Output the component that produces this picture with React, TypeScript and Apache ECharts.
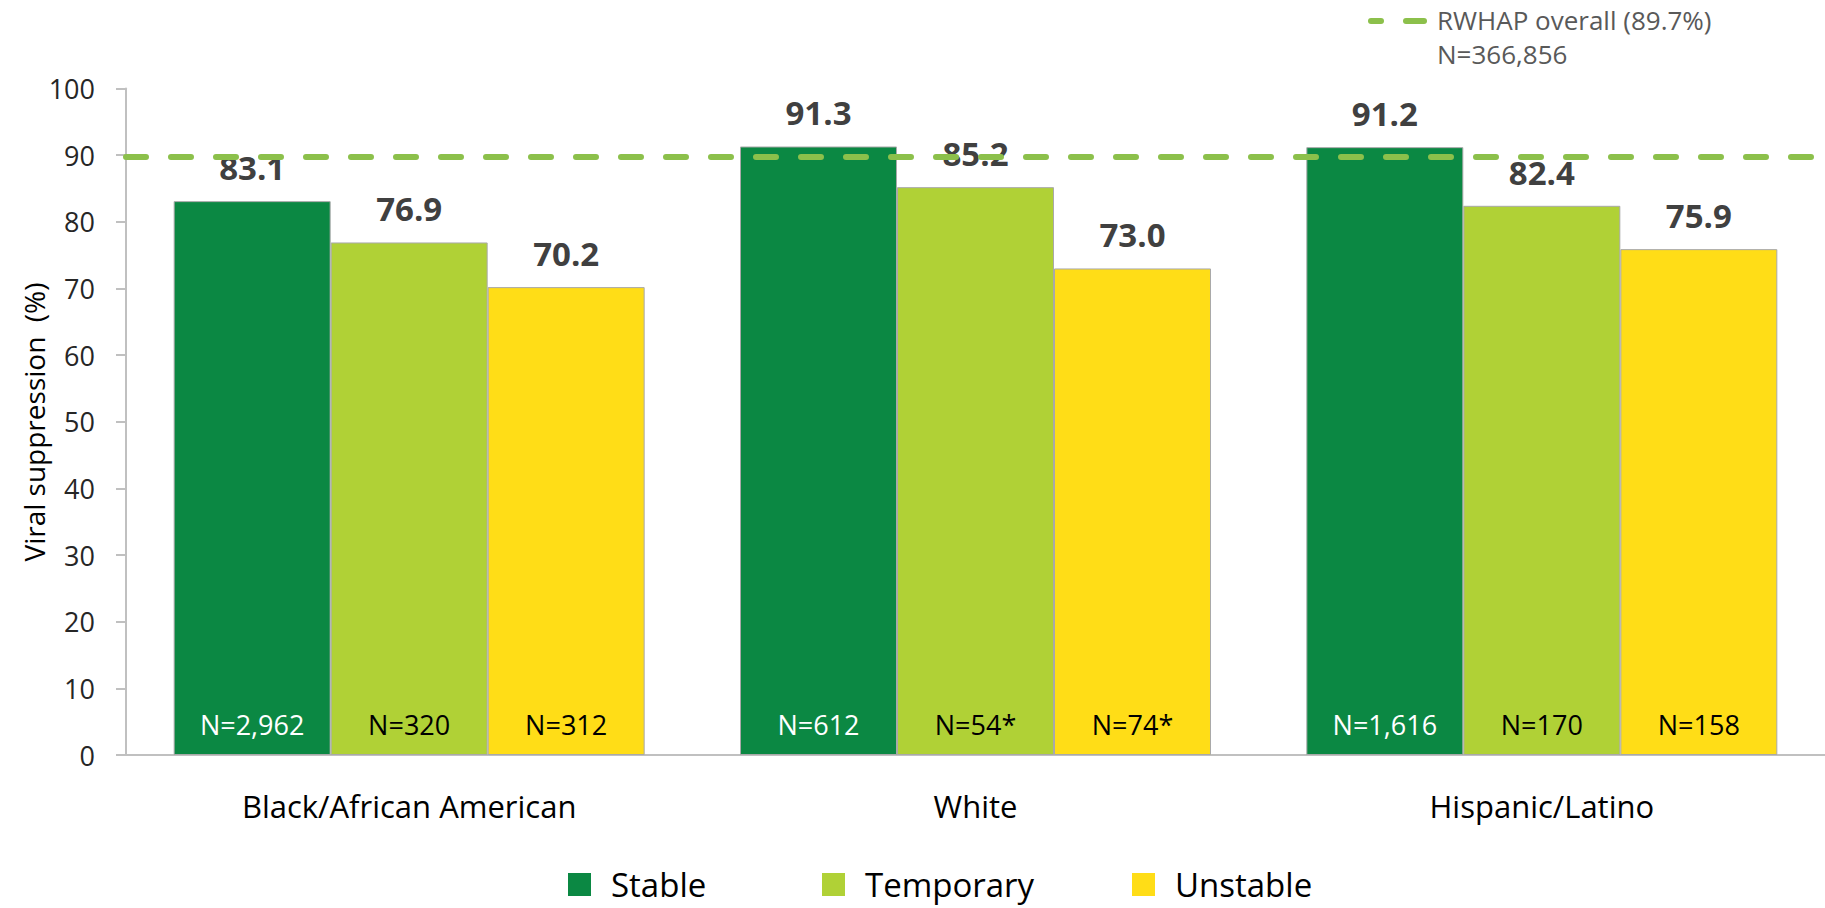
import React, { useEffect, useRef } from 'react';
import * as echarts from 'echarts';

const categories = ['Black/African American', 'White', 'Hispanic/Latino'];
const seriesNames = ['Stable', 'Temporary', 'Unstable'];
const stableValues = [83.1, 91.3, 91.2];
const temporaryValues = [76.9, 85.2, 82.4];
const unstableValues = [70.2, 73.0, 75.9];
const stableN = ['N=2,962', 'N=612', 'N=1,616'];
const temporaryN = ['N=320', 'N=54*', 'N=170'];
const unstableN = ['N=312', 'N=74*', 'N=158'];
const overallValue = 89.7;
const overallN = 'N=366,856';
const yMin = 0;
const yMax = 100;
const yInterval = 10;
const yAxisTitle = 'Viral suppression  (%)';

const FONT = '"Open Sans", "Noto Sans", sans-serif';
const colors = ['#0b8843', '#b0d136', '#ffdd17'];
const nLabelColors = ['#ffffff', '#000000', '#000000'];
const dashColor = '#8cc04b';

export default function App() {
  const ref = useRef<HTMLDivElement>(null);

  useEffect(() => {
    const chart = echarts.init(ref.current as HTMLDivElement, null, { renderer: 'svg' });
    const valueSets = [stableValues, temporaryValues, unstableValues];
    const nSets = [stableN, temporaryN, unstableN];
    const series: any[] = [];
    seriesNames.forEach((name, i) => {
      series.push({
        name,
        type: 'bar',
        stack: 'g' + i,
        stackStrategy: 'all',
        barWidth: 157,
        barGap: '0%',
        data: valueSets[i],
        itemStyle: { color: colors[i], borderColor: '#a9a9a9', borderWidth: 1 },
        label: {
          show: true,
          position: 'insideBottom',
          distance: 17,
          formatter: (p: any) => nSets[i][p.dataIndex],
          color: nLabelColors[i],
          fontSize: 27,
          fontFamily: FONT,
        },
        markLine:
          i === 0
            ? {
                silent: true,
                symbol: ['none', 'none'],
                label: { show: false },
                lineStyle: { color: dashColor, width: 6, type: [20, 25], cap: 'round' },
                data: [{ yAxis: overallValue }],
              }
            : undefined,
      });
      series.push({
        name,
        type: 'bar',
        stack: 'g' + i,
        stackStrategy: 'all',
        barWidth: 157,
        barGap: '0%',
        silent: true,
        data: valueSets[i].map(() => 0),
        itemStyle: { color: 'rgba(0,0,0,0)', borderWidth: 0 },
        label: {
          show: true,
          position: 'top',
          distance: 17,
          formatter: (p: any) => valueSets[i][p.dataIndex].toFixed(1),
          color: '#404040',
          fontSize: 33,
          fontWeight: 'bold',
          fontFamily: FONT,
        },
      });
    });

    const legendLefts = [568, 822, 1132];
    const option: any = {
      animation: false,
      backgroundColor: '#ffffff',
      textStyle: { fontFamily: FONT },
      grid: { left: 126, top: 88.5, width: 1716, height: 666.5, containLabel: false },
      xAxis: {
        type: 'category',
        data: categories,
        axisLine: { show: true, lineStyle: { color: '#c0c0c0', width: 2 } },
        axisTick: { show: false },
        axisLabel: { fontSize: 31, color: '#000000', margin: 35, fontFamily: FONT },
        splitLine: { show: false },
      },
      yAxis: {
        type: 'value',
        min: yMin,
        max: yMax,
        interval: yInterval,
        axisLine: { show: true, lineStyle: { color: '#c0c0c0', width: 2 } },
        axisTick: { show: true, length: 10, lineStyle: { color: '#c0c0c0', width: 2 } },
        axisLabel: { fontSize: 27, color: '#262626', margin: 31, fontFamily: FONT },
        splitLine: { show: false },
      },
      legend: seriesNames.map((name, i) => ({
        data: [name],
        left: legendLefts[i],
        top: 868,
        padding: 0,
        itemWidth: 23,
        itemHeight: 23,
        icon: 'rect',
        selectedMode: false,
        itemStyle: { borderWidth: 0 },
        textStyle: {
          fontSize: 33,
          lineHeight: 32,
          color: '#000000',
          fontFamily: FONT,
          padding: [0, 0, 0, 15],
        },
      })),
      graphic: [
        {
          type: 'text',
          x: 34,
          y: 422,
          rotation: Math.PI / 2,
          style: {
            text: yAxisTitle,
            fontSize: 28,
            fontFamily: FONT,
            fill: '#000000',
            align: 'center',
            verticalAlign: 'middle',
          },
        },
        {
          type: 'line',
          shape: { x1: 1371, y1: 21, x2: 1381, y2: 21 },
          style: { stroke: dashColor, lineWidth: 6, lineCap: 'round' },
        },
        {
          type: 'line',
          shape: { x1: 1406, y1: 21, x2: 1424, y2: 21 },
          style: { stroke: dashColor, lineWidth: 6, lineCap: 'round' },
        },
        {
          type: 'text',
          x: 1437,
          y: 20,
          style: {
            text: `RWHAP overall (${overallValue}%)`,
            fontSize: 26,
            fontFamily: FONT,
            fill: '#595959',
            align: 'left',
            verticalAlign: 'middle',
          },
        },
        {
          type: 'text',
          x: 1437,
          y: 54,
          style: {
            text: overallN,
            fontSize: 26,
            fontFamily: FONT,
            fill: '#595959',
            align: 'left',
            verticalAlign: 'middle',
          },
        },
      ],
      series,
    };
    chart.setOption(option);
    return () => chart.dispose();
  }, []);

  return (
    <div
      ref={ref}
      style={{ position: 'fixed', left: 0, top: 0, width: 1825, height: 908, background: '#ffffff' }}
    />
  );
}
